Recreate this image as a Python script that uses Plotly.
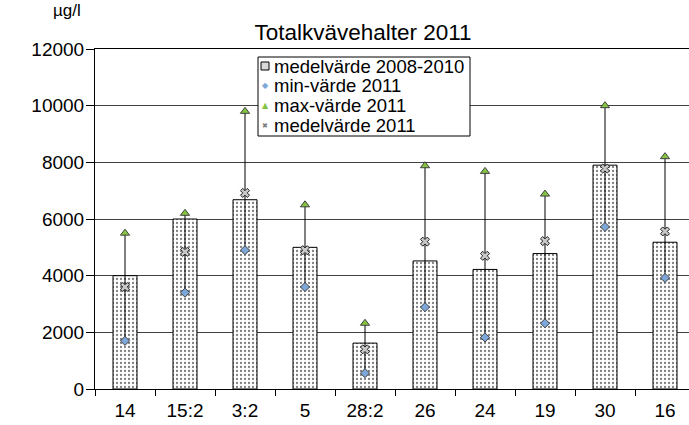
import plotly.graph_objects as go

categories = ["14", "15:2", "3:2", "5", "28:2", "26", "24", "19", "30", "16"]
mean_2008_2010 = [4000, 6000, 6680, 5000, 1620, 4520, 4220, 4780, 7900, 5180]
min_2011 = [1700, 3400, 4900, 3600, 560, 2890, 1820, 2320, 5720, 3920]
max_2011 = [5500, 6200, 9800, 6500, 2320, 7880, 7680, 6880, 10000, 8200]
mean_2011 = [3600, 4840, 6920, 4900, 1400, 5200, 4700, 5220, 7780, 5560]

legend_names = ["medelvärde 2008-2010", "min-värde 2011", "max-värde 2011", "medelvärde 2011"]

FONT = "Liberation Sans, Arial, sans-serif"
W, H = 689, 425
ML, MR, MT, MB = 95, 0, 49, 36
PW, PH = W - ML - MR, H - MT - MB


def px(x):
    return (x - ML) / PW


def py(y):
    return (H - MB - y) / PH


fig = go.Figure()

fig.add_trace(go.Bar(
    x=categories, y=mean_2008_2010, name=legend_names[0], width=0.4,
    marker=dict(color="white", line=dict(color="black", width=1),
                pattern=dict(shape=".", fgcolor="black", bgcolor="white", size=4, solidity=0.25)),
))

# vertical min-max lines
lx, ly = [], []
for c, lo, hi in zip(categories, min_2011, max_2011):
    lx += [c, c, None]
    ly += [lo, hi, None]
fig.add_trace(go.Scatter(x=lx, y=ly, mode="lines", line=dict(color="black", width=1),
                         showlegend=False, hoverinfo="skip"))

fig.add_trace(go.Scatter(
    x=categories, y=min_2011, mode="markers", name=legend_names[1],
    marker=dict(symbol="diamond", size=7, color="#7da7d9", line=dict(color="#404040", width=1)),
))
fig.add_trace(go.Scatter(
    x=categories, y=max_2011, mode="markers", name=legend_names[2],
    marker=dict(symbol="triangle-up", size=8, color="#84c441", line=dict(color="#404040", width=1)),
))
fig.add_trace(go.Scatter(
    x=categories, y=mean_2011, mode="markers", name=legend_names[3],
    marker=dict(symbol="x", size=8, color="#c8c8c8", line=dict(color="#202020", width=1)),
))

# ----- manual legend (box, symbols, texts) -----
LEG_L, LEG_R, LEG_T, LEG_B = 258, 470, 57, 136
shapes = [dict(type="rect", xref="paper", yref="paper",
               x0=px(LEG_L), x1=px(LEG_R), y0=py(LEG_B), y1=py(LEG_T),
               fillcolor="white", line=dict(color="black", width=1), layer="above")]
row_y = [66, 86, 106, 126]
sym_x = 265
text_x = 273
shapes.append(dict(type="rect", xref="paper", yref="paper",
                   x0=px(sym_x - 4), x1=px(sym_x + 4), y0=py(row_y[0] + 4), y1=py(row_y[0] - 4),
                   fillcolor="#d9d9d9", line=dict(color="black", width=1), layer="above"))
annotations = []
glyphs = [None, ("◆", "#7da7d9", 8), ("▲", "#84c441", 8), ("✖", "#7a7a7a", 7)]
for i, name in enumerate(legend_names):
    annotations.append(dict(text=name, xref="paper", yref="paper", x=px(text_x), y=py(row_y[i]),
                            xanchor="left", yanchor="middle", showarrow=False, borderpad=0,
                            font=dict(family=FONT, size=18.5, color="black")))
    if glyphs[i]:
        g, col, sz = glyphs[i]
        annotations.append(dict(text=g, xref="paper", yref="paper", x=px(sym_x), y=py(row_y[i]),
                                xanchor="center", yanchor="middle", showarrow=False, borderpad=0,
                                font=dict(family="DejaVu Sans", size=sz, color=col)))

annotations.append(dict(text="µg/l", xref="paper", yref="paper", x=px(67), y=py(11),
                        xanchor="center", yanchor="middle", showarrow=False,
                        font=dict(family=FONT, size=17, color="black")))

fig.update_layout(
    width=W, height=H,
    margin=dict(l=ML, r=MR, t=MT, b=MB),
    paper_bgcolor="white", plot_bgcolor="white",
    font=dict(family=FONT, size=19, color="black"),
    title=dict(text="Totalkvävehalter 2011", xref="container", x=363 / W, xanchor="center",
               yref="container", y=1 - 32 / H, yanchor="middle",
               font=dict(family=FONT, size=22.5, color="black")),
    showlegend=False,
    bargap=0.6,
    shapes=shapes,
    annotations=annotations,
)

fig.update_xaxes(
    type="category", range=[-0.5, 9.4],
    showline=True, linecolor="black", linewidth=1, mirror=True,
    ticks="outside", tickson="boundaries", ticklen=6, tickcolor="black",
    showgrid=False, tickfont=dict(family=FONT, size=19, color="black"),
    ticklabelstandoff=4,
)
fig.update_yaxes(
    range=[0, 12000], dtick=2000, tickformat="d",
    showline=True, linecolor="black", linewidth=1,
    ticks="outside", ticklen=8, tickcolor="black",
    showgrid=True, gridcolor="#404040", gridwidth=1, zeroline=False,
    tickfont=dict(family=FONT, size=19, color="black"),
    ticklabelstandoff=-2,
)

fig.write_html("out.html", config={"displayModeBar": False},
               post_script="document.body.style.margin='0';document.body.style.padding='0';"
                           "document.body.style.overflow='hidden';")
